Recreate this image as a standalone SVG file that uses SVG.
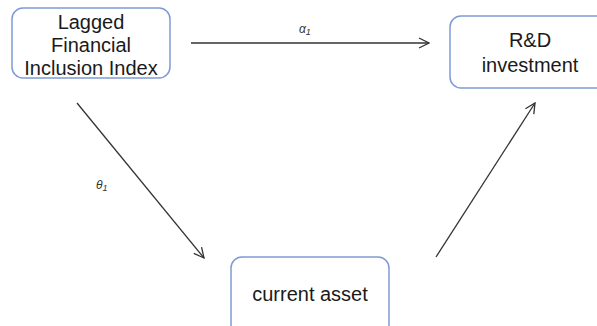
<svg xmlns="http://www.w3.org/2000/svg" width="597" height="326" viewBox="0 0 597 326">
<style>
.box{fill:#fff;stroke:#7f9ad6;stroke-width:1.5}
.t{font-family:"Liberation Sans",Arial,sans-serif;font-size:20px;fill:#1a1a1a;text-anchor:middle}
.lbl{font-family:"Liberation Sans",Arial,sans-serif;font-size:12px;font-style:italic;fill:#333}
.sub{font-size:9px}
.c{stroke:#333;stroke-width:1.3;fill:none;marker-end:url(#ah)}
</style>
<defs>
<marker id="ah" viewBox="0 0 12 12" refX="11" refY="6" markerWidth="12" markerHeight="12" markerUnits="userSpaceOnUse" orient="auto">
<path d="M1,1 L11,6 L1,11" fill="none" stroke="#333" stroke-width="1.3"/>
</marker>
</defs>
<rect width="597" height="326" fill="#fff"/>
<g id="connectors">
<line class="c" x1="191" y1="43" x2="429" y2="43"/>
<line class="c" x1="77" y1="103" x2="204" y2="258"/>
<line class="c" x1="436" y1="257" x2="535" y2="103"/>
<text class="lbl" x="299" y="33">α<tspan class="sub" dy="2">1</tspan></text>
<text class="lbl" x="96" y="189">θ<tspan class="sub" dy="2">1</tspan></text>
</g>
<g id="node-lagged">
<rect class="box" x="12" y="8" width="158" height="70" rx="11"/>
<text class="t" x="91" y="29">Lagged</text>
<text class="t" x="91" y="52">Financial</text>
<text class="t" x="91" y="75">Inclusion Index</text>
</g>
<g id="node-rd">
<rect class="box" x="450" y="16" width="160" height="72" rx="11"/>
<text class="t" x="530" y="47">R&amp;D</text>
<text class="t" x="530" y="72">investment</text>
</g>
<g id="node-current">
<rect class="box" x="231" y="257" width="158" height="80" rx="11"/>
<text class="t" x="310" y="301">current asset</text>
</g>
</svg>
